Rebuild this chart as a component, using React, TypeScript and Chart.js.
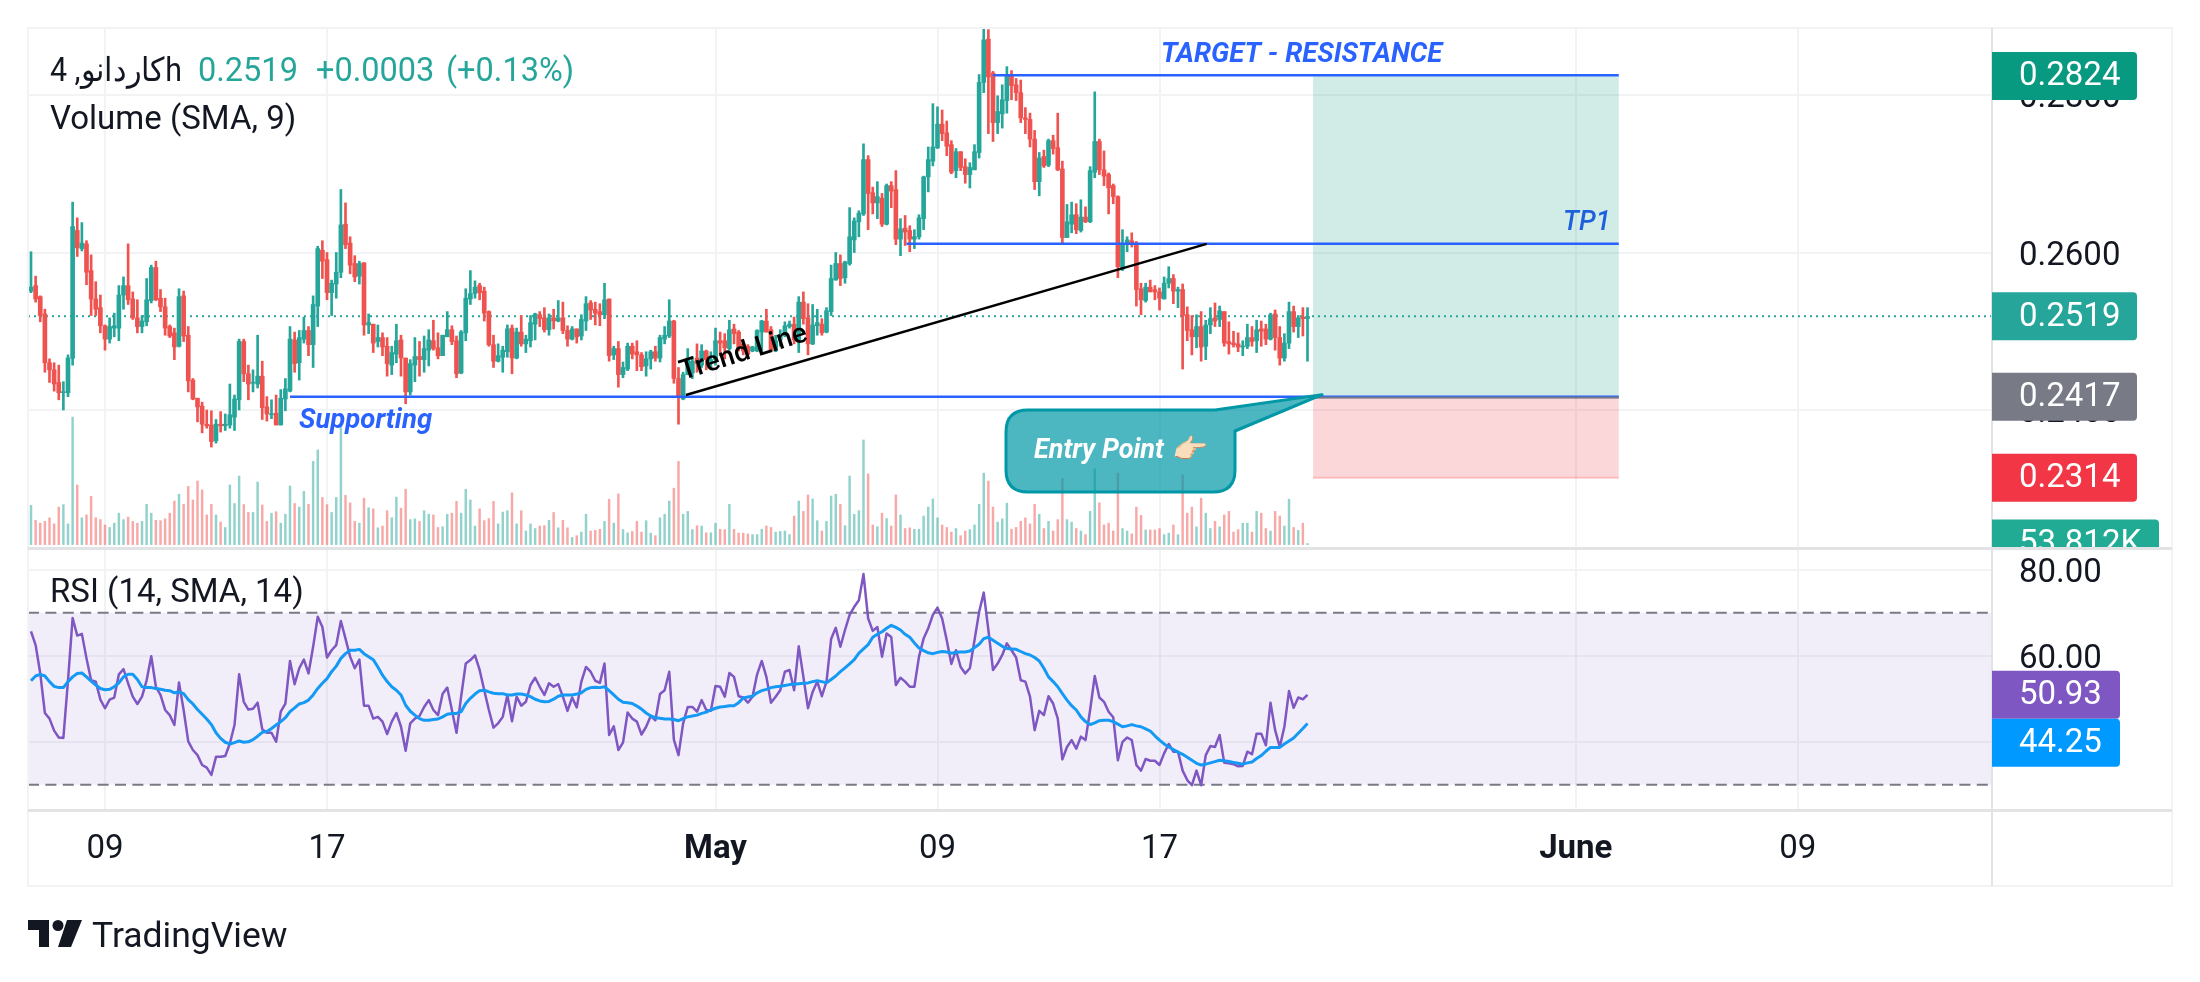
import React, { useEffect, useRef } from "react";
import { Chart, registerables } from "chart.js";

Chart.register(...registerables);

// Prices are in ten-thousandths (0.0001 ticks), 4h bars.
const opens = [2551,2558,2544,2522,2460,2451,2435,2422,2422,2466,2628,2605,2611,2577,2541,2530,2507,2490,2504,2504,2546,2558,2541,2517,2506,2512,2539,2581,2542,2531,2506,2498,2481,2545,2495,2438,2415,2405,2382,2381,2361,2382,2380,2381,2391,2413,2487,2446,2434,2433,2443,2404,2394,2396,2381,2414,2424,2489,2460,2490,2501,2483,2532,2603,2591,2549,2560,2575,2636,2612,2586,2570,2587,2508,2509,2487,2492,2481,2457,2471,2489,2466,2423,2457,2468,2464,2476,2488,2479,2469,2493,2502,2488,2447,2498,2541,2548,2558,2551,2525,2483,2462,2467,2474,2504,2466,2499,2484,2488,2509,2521,2517,2502,2517,2513,2517,2501,2490,2503,2494,2513,2536,2528,2525,2521,2541,2470,2478,2445,2452,2481,2474,2470,2456,2465,2474,2466,2490,2494,2513,2440,2414,2445,2447,2466,2457,2475,2462,2464,2488,2488,2478,2503,2499,2484,2481,2475,2475,2499,2513,2502,2475,2489,2495,2506,2509,2489,2537,2517,2484,2507,2509,2499,2525,2565,2586,2568,2586,2616,2639,2649,2718,2676,2663,2669,2636,2685,2680,2617,2631,2628,2617,2620,2643,2696,2716,2733,2763,2752,2737,2704,2728,2709,2699,2705,2727,2816,2871,2828,2765,2776,2793,2826,2813,2803,2771,2769,2744,2690,2722,2711,2742,2733,2706,2619,2636,2648,2628,2645,2639,2702,2741,2705,2699,2685,2671,2579,2611,2615,2612,2554,2539,2556,2553,2550,2541,2561,2567,2551,2553,2521,2502,2493,2506,2481,2508,2517,2515,2525,2487,2485,2484,2480,2481,2492,2488,2503,2503,2490,2522,2492,2466,2485,2525,2506,2518,2516];
const highs = [2601,2570,2545,2528,2465,2460,2457,2436,2470,2664,2644,2638,2615,2597,2563,2546,2508,2517,2523,2558,2569,2611,2550,2540,2520,2567,2584,2589,2553,2542,2508,2504,2554,2551,2506,2440,2415,2410,2400,2399,2388,2398,2395,2433,2419,2490,2490,2457,2451,2495,2462,2417,2413,2419,2426,2440,2506,2499,2501,2518,2506,2545,2608,2615,2600,2565,2600,2680,2663,2620,2596,2589,2587,2522,2509,2508,2498,2492,2481,2509,2495,2466,2464,2492,2487,2494,2502,2514,2498,2495,2525,2507,2494,2501,2554,2577,2564,2561,2556,2526,2495,2484,2481,2508,2508,2504,2520,2495,2520,2523,2525,2530,2522,2528,2539,2537,2507,2506,2503,2521,2544,2539,2537,2535,2561,2541,2481,2487,2461,2485,2485,2488,2473,2474,2476,2481,2495,2506,2540,2514,2454,2448,2478,2468,2484,2483,2476,2474,2504,2499,2497,2514,2509,2501,2488,2483,2481,2502,2514,2528,2506,2495,2502,2512,2513,2518,2544,2550,2535,2534,2528,2516,2530,2584,2600,2597,2589,2657,2644,2653,2738,2723,2683,2690,2675,2687,2690,2704,2643,2647,2634,2629,2648,2697,2734,2789,2785,2781,2767,2742,2732,2728,2719,2714,2737,2826,2885,2883,2830,2799,2813,2836,2831,2821,2819,2784,2777,2755,2727,2730,2744,2749,2777,2716,2661,2664,2662,2667,2658,2709,2804,2744,2729,2701,2687,2672,2629,2620,2625,2614,2561,2561,2565,2558,2555,2569,2582,2572,2556,2560,2531,2520,2521,2525,2514,2530,2536,2532,2525,2512,2500,2498,2488,2509,2506,2514,2513,2509,2523,2527,2506,2497,2537,2532,2520,2530,2530];
const lows = [2549,2537,2512,2448,2435,2424,2413,2400,2417,2457,2595,2602,2559,2520,2520,2498,2476,2485,2493,2488,2528,2534,2515,2498,2498,2507,2536,2539,2525,2495,2492,2464,2480,2487,2423,2413,2385,2371,2377,2353,2358,2372,2374,2377,2374,2400,2436,2413,2423,2428,2388,2386,2389,2381,2381,2399,2423,2448,2438,2485,2469,2454,2506,2567,2540,2520,2542,2568,2605,2573,2563,2560,2495,2497,2473,2480,2469,2443,2445,2460,2443,2408,2419,2436,2443,2448,2456,2476,2465,2469,2493,2483,2441,2446,2488,2534,2542,2540,2513,2481,2454,2461,2448,2467,2446,2465,2481,2473,2480,2489,2506,2499,2495,2503,2512,2497,2481,2489,2485,2489,2501,2515,2508,2507,2516,2462,2464,2429,2441,2450,2465,2450,2450,2443,2452,2462,2461,2484,2492,2434,2382,2413,2445,2440,2448,2454,2451,2451,2457,2469,2465,2476,2484,2475,2470,2470,2474,2474,2476,2499,2474,2474,2481,2493,2504,2484,2473,2509,2470,2483,2495,2495,2498,2520,2565,2558,2561,2584,2600,2620,2647,2629,2649,2643,2633,2635,2657,2610,2596,2609,2601,2605,2617,2629,2677,2710,2732,2742,2723,2700,2695,2704,2688,2682,2705,2720,2803,2751,2741,2751,2758,2777,2794,2793,2765,2751,2734,2680,2672,2708,2709,2725,2704,2612,2619,2625,2624,2626,2638,2638,2695,2699,2685,2649,2662,2568,2577,2601,2607,2532,2521,2537,2550,2540,2527,2541,2555,2535,2530,2452,2488,2470,2479,2462,2464,2497,2506,2506,2481,2471,2480,2474,2469,2478,2481,2473,2481,2483,2489,2476,2457,2462,2478,2499,2492,2494,2462];
const closes = [2556,2541,2520,2460,2451,2433,2422,2423,2466,2633,2606,2612,2575,2541,2528,2507,2490,2506,2507,2546,2558,2540,2517,2506,2513,2540,2581,2540,2531,2504,2494,2480,2544,2494,2437,2414,2404,2382,2380,2360,2382,2380,2382,2394,2414,2487,2446,2433,2435,2443,2403,2395,2395,2381,2415,2427,2490,2459,2492,2501,2483,2534,2605,2589,2549,2561,2575,2635,2610,2584,2569,2586,2508,2511,2485,2492,2480,2459,2473,2488,2466,2423,2459,2468,2464,2478,2489,2478,2469,2495,2502,2487,2446,2499,2542,2548,2556,2549,2523,2483,2462,2469,2476,2503,2466,2499,2484,2490,2511,2522,2516,2502,2517,2513,2517,2501,2490,2503,2493,2515,2535,2527,2523,2521,2540,2469,2478,2445,2454,2481,2471,2470,2455,2465,2474,2466,2492,2495,2513,2440,2416,2445,2466,2462,2459,2475,2464,2464,2488,2485,2479,2502,2497,2479,2475,2471,2480,2501,2513,2499,2475,2488,2495,2507,2509,2489,2537,2516,2484,2508,2511,2498,2526,2567,2586,2567,2588,2620,2640,2650,2718,2675,2663,2671,2636,2685,2678,2617,2630,2626,2617,2620,2644,2696,2718,2734,2763,2751,2735,2702,2728,2708,2699,2708,2728,2816,2870,2823,2765,2779,2794,2826,2812,2803,2771,2769,2744,2690,2720,2710,2742,2732,2705,2619,2639,2648,2629,2645,2639,2704,2741,2705,2697,2682,2671,2582,2611,2616,2611,2553,2540,2556,2550,2550,2542,2561,2567,2551,2553,2520,2501,2493,2506,2480,2508,2516,2513,2526,2485,2484,2483,2480,2481,2492,2487,2502,2500,2490,2521,2492,2466,2485,2525,2506,2517,2516,2519];
// Volume in thousands.
const volumes = [1980,1224,1080,1170,1350,1044,1890,2016,1044,6426,3006,1350,1494,2430,1350,1260,990,864,1080,1584,1260,1386,1170,1080,1170,2034,1584,1224,1206,1296,1584,2196,2538,2034,2934,2250,3204,2754,1494,2034,1494,1134,864,3006,2070,3456,2016,1620,1620,3150,1998,1170,1584,1656,1080,1530,2952,2070,1890,2682,2034,4194,4770,2376,2016,1620,2376,6030,2484,2106,1170,1080,2340,1854,1800,846,936,1710,1350,2394,1836,2790,1260,1296,1170,1710,1530,1494,864,900,1530,1584,2178,1584,2790,2250,936,1800,1206,1314,2178,1044,1638,1710,2610,1044,1710,684,1044,810,936,954,1224,1620,846,1224,846,360,450,630,1530,684,720,774,1170,2286,1080,2556,756,594,666,1170,630,1206,576,450,1350,1530,2196,2844,4194,1530,1674,756,954,936,594,594,1080,774,756,2034,774,576,576,540,504,504,774,936,864,630,666,684,504,1440,2196,1674,2502,2304,1206,684,1170,2448,2538,2034,954,3456,1530,1710,5274,3564,990,900,1584,1314,936,2502,1494,810,846,774,774,1440,1890,2304,1350,990,864,630,810,450,684,756,990,2034,3600,3204,1890,1134,1296,2088,774,864,1170,1350,1044,2034,1530,810,1170,684,1260,3330,1260,1134,810,684,504,1674,3816,2106,990,1080,684,3600,810,684,540,1890,1476,738,738,738,810,504,576,990,504,3510,1584,1890,900,2340,1584,810,1170,900,1494,1674,630,756,1080,1080,630,1674,1584,810,684,1674,1440,936,2286,864,720,1080,53.812];
const rsiValues = [65.7,62.5,55.9,46.7,45.4,42.6,41.0,40.9,54.3,68.8,64.7,65.1,59.4,54.3,54.0,49.8,47.8,49.8,50.3,55.7,56.9,53.6,50.5,48.8,50.5,54.3,59.9,52.8,50.9,47.4,46.2,43.9,53.8,47.4,40.1,38.1,36.9,34.6,34.0,32.3,36.5,36.5,36.7,39.6,43.9,55.7,49.3,47.5,47.7,49.1,42.9,42.1,42.1,40.0,47.0,48.9,58.8,53.4,57.1,59.1,55.9,62.1,69.1,66.7,59.6,61.3,62.5,68.1,64.0,59.8,57.1,59.1,48.4,48.4,45.4,45.8,44.7,41.8,44.7,46.7,43.5,37.9,44.3,45.4,46.0,48.1,49.7,47.4,46.2,51.2,52.6,47.4,42.1,50.5,58.2,59.0,60.1,56.7,52.0,47.4,43.3,44.3,45.8,50.9,44.8,50.5,48.4,49.3,53.2,54.9,52.8,50.9,53.6,52.8,53.4,50.5,47.2,50.3,48.0,54.0,57.4,56.3,54.2,53.7,58.2,41.6,43.6,38.1,39.8,46.8,45.4,44.7,41.7,43.5,46.0,45.0,51.1,52.0,56.3,40.5,36.9,44.3,48.1,48.1,47.0,49.7,47.4,47.2,53.0,52.8,50.5,56.0,55.1,50.6,50.3,49.1,50.5,55.7,58.8,55.1,49.1,50.5,52.0,56.3,56.7,52.0,62.2,55.1,47.8,51.6,54.0,50.6,54.0,63.9,66.5,62.1,66.0,69.5,71.4,72.9,79.0,68.7,65.8,66.7,59.8,65.2,64.4,53.2,54.9,54.0,52.8,52.8,59.8,64.0,66.4,69.5,71.2,68.7,63.6,58.1,61.3,57.4,55.9,57.1,63.6,70.2,74.7,66.0,56.7,58.2,60.2,62.9,61.3,59.6,54.3,54.0,50.5,42.7,47.2,46.2,50.6,48.9,45.4,35.9,38.8,40.4,38.4,41.2,40.4,47.4,55.3,50.3,49.3,47.0,45.7,35.7,40.0,41.0,40.4,34.6,33.3,36.0,35.6,35.6,34.6,37.3,39.5,37.7,37.7,33.3,31.1,29.9,33.3,29.9,36.9,39.0,38.8,41.6,35.1,35.0,34.8,34.3,34.4,37.7,37.1,41.9,41.9,39.2,49.1,42.7,38.8,43.5,51.8,47.9,50.3,49.9,50.93];
const rsiSmaValues = [54.2,55.3,55.7,55.3,54.0,52.9,52.6,52.6,54.0,55.1,55.9,56.0,55.1,54.1,53.2,52.4,52.1,52.2,52.8,53.7,55.1,55.7,55.7,54.5,52.8,52.6,52.6,52.4,52.2,52.0,51.9,51.4,51.6,51.2,49.8,48.8,47.5,46.4,45.3,44.0,42.1,40.8,39.9,39.5,39.8,40.2,39.9,40.0,40.5,41.3,42.2,42.4,43.1,43.9,44.7,45.6,47.0,47.9,48.8,49.1,49.7,50.9,52.4,53.6,54.7,56.3,57.6,59.4,60.5,61.3,61.3,61.5,60.5,59.8,59.1,57.4,55.5,54.0,52.8,52.0,50.9,48.5,47.1,46.2,45.4,45.0,45.0,45.2,45.3,45.8,46.4,46.6,46.6,47.0,48.9,50.1,51.1,51.9,52.0,51.6,51.3,51.2,51.2,50.9,50.9,51.1,51.1,50.9,50.5,49.9,49.5,49.3,49.4,49.9,50.6,50.9,50.9,50.9,51.1,51.4,52.2,52.6,52.7,52.6,52.8,51.9,50.9,49.9,49.2,49.1,48.9,48.3,47.6,46.7,46.0,45.6,45.5,45.3,45.3,45.2,44.9,45.4,45.8,46.0,46.2,46.6,46.9,47.4,47.8,48.1,48.2,48.4,48.4,49.1,50.2,50.4,50.6,51.4,51.9,52.2,52.6,52.8,52.9,53.1,53.3,53.4,53.5,53.6,53.7,54.0,54.2,54.0,53.7,54.5,55.3,56.3,57.2,58.1,59.1,60.6,61.6,62.6,64.3,65.0,65.6,66.4,67.1,66.6,66.0,65.0,64.3,63.0,61.8,61.2,60.7,60.5,60.8,61.0,60.9,60.6,60.8,60.9,60.9,61.1,61.9,62.7,64.0,64.3,63.6,62.9,62.2,61.7,61.6,61.5,61.0,60.5,60.2,59.6,58.8,57.1,55.1,54.0,52.8,51.2,49.7,48.4,47.4,45.8,44.7,44.0,44.4,44.9,45.0,45.0,44.7,44.1,43.5,43.7,44.0,43.7,43.5,43.0,42.5,41.4,40.4,39.5,38.8,38.2,37.6,37.1,36.4,35.7,35.0,34.6,34.8,35.1,35.4,35.7,35.6,35.4,35.2,35.0,34.8,35.1,35.3,36.1,36.8,37.8,38.7,38.7,38.7,39.5,40.2,40.9,42.0,43.1,44.25];

const timeTickBars = [16, 64, 148, 196, 244, 334, 382];
const timeTickLabels = ["09", "17", "May", "09", "17", "June", "09"];
const boldTimeLabels = ["May", "June"];
const priceTicks = [0.24, 0.26, 0.28];
const rsiTicks = [40, 60, 80];
const rsiBand = [70, 30];

const lastPrice = 0.2519;
const entryPrice = 0.2417;
const targetPrice = 0.2824;
const stopPrice = 0.2314;
const tp1Price = 0.2611;
const positionBars = [277.2, 343.3];
const supportLine = [{ x: 56, y: entryPrice }, { x: 343.3, y: entryPrice }];
const targetLine = [{ x: 208, y: 0.2825 }, { x: 343.3, y: 0.2825 }];
const tp1Line = [{ x: 189.3, y: tp1Price }, { x: 343.3, y: tp1Price }];
const trendLine = [{ x: 141.6, y: 0.2419 }, { x: 254.2, y: 0.2611 }];

const X_MIN = -0.649;
const X_MAX = 424;
const UP = "#26a69a";
const DOWN = "#ef5350";
const BLUE = "#2962ff";
const INK = "#131722";
const FONT = "Roboto";
const GRID = "#f2f3f5";
const DIVIDER = "#e2e3e5";

const bars = opens.map((_, i) => i);
const isUp = (i: number) => closes[i] >= opens[i];
const candleColors = bars.map((i) => (isUp(i) ? UP : DOWN));
const volumeColors = bars.map((i) => (isUp(i) ? "rgba(38,166,154,0.5)" : "rgba(239,83,80,0.5)"));

function tag(ctx: CanvasRenderingContext2D, y: number, right: number, color: string, label: string) {
  const left = 1992;
  const h = 48;
  ctx.fillStyle = color;
  ctx.beginPath();
  ctx.roundRect(left, y - h / 2, right - left, h, [0, 4, 4, 0]);
  ctx.fill();
  ctx.fillStyle = "#ffffff";
  ctx.font = `33px ${FONT}`;
  ctx.textAlign = "left";
  ctx.textBaseline = "middle";
  ctx.fillText(label, 2019, y + 1);
}

const zeroPad = (s: any) => { s.paddingTop = 0; s.paddingBottom = 0; s.paddingLeft = 0; s.paddingRight = 0; };

const overlayPlugin = {
  id: "overlay",
  beforeDatasetsDraw(chart: any) {
    const { ctx, scales } = chart;
    const x0 = scales.x.getPixelForValue(positionBars[0]);
    const x1 = scales.x.getPixelForValue(positionBars[1]);
    const yT = scales.y.getPixelForValue(targetPrice);
    const yE = scales.y.getPixelForValue(entryPrice);
    const yS = scales.y.getPixelForValue(stopPrice);
    ctx.save();
    ctx.fillStyle = "rgba(8,153,129,0.19)";
    ctx.fillRect(x0, yT, x1 - x0, yE - yT);
    ctx.fillStyle = "rgba(242,54,69,0.2)";
    ctx.fillRect(x0, yE, x1 - x0, yS - yE);
    ctx.fillStyle = "rgba(242,54,69,0.25)";
    ctx.fillRect(x0, yS - 1, x1 - x0, 2);
    ctx.restore();
  },
  afterDatasetsDraw(chart: any) {
    const { ctx, scales } = chart;
    const y = scales.y;
    const x = scales.x;
    const right = x.getPixelForValue(positionBars[1]);
    ctx.save();

    // Position tool entry line
    ctx.fillStyle = "#787b86";
    ctx.fillRect(x.getPixelForValue(positionBars[0]), y.getPixelForValue(entryPrice), right - x.getPixelForValue(positionBars[0]), 2);

    // Drawing labels
    ctx.textAlign = "left";
    ctx.textBaseline = "alphabetic";
    ctx.fillStyle = BLUE;
    ctx.font = `italic bold 27.5px ${FONT}`;
    ctx.fillText("TARGET - RESISTANCE", 1161, 62);
    ctx.fillText("Supporting", 299, 428);
    ctx.fillStyle = "#1e5fdc";
    ctx.font = `italic 500 27px ${FONT}`;
    ctx.fillText("TP1", 1563, 230);

    ctx.save();
    ctx.translate(683, 380);
    ctx.rotate((-17.5 * Math.PI) / 180);
    ctx.fillStyle = "#000000";
    ctx.font = `500 28px ${FONT}`;
    ctx.fillText("Trend Line", 0, 0);
    ctx.restore();

    // Callout
    const tipX = x.getPixelForValue(positionBars[0]) + 9;
    const tipY = y.getPixelForValue(entryPrice) - 2;
    const L = 1006, R = 1235, T = 410, B = 492, r = 22;
    ctx.beginPath();
    ctx.moveTo(L + r, T);
    ctx.lineTo(1215, T);
    ctx.lineTo(tipX, tipY);
    ctx.lineTo(R, 431);
    ctx.lineTo(R, B - r);
    ctx.quadraticCurveTo(R, B, R - r, B);
    ctx.lineTo(L + r, B);
    ctx.quadraticCurveTo(L, B, L, B - r);
    ctx.lineTo(L, T + r);
    ctx.quadraticCurveTo(L, T, L + r, T);
    ctx.closePath();
    ctx.fillStyle = "rgba(0,151,167,0.7)";
    ctx.fill();
    ctx.lineWidth = 3;
    ctx.lineJoin = "round";
    ctx.strokeStyle = "#0097a7";
    ctx.stroke();
    ctx.fillStyle = "#ffffff";
    ctx.font = `italic bold 27px ${FONT}`;
    ctx.textBaseline = "middle";
    ctx.fillText("Entry Point \uD83D\uDC49\uD83C\uDFFB", 1034, 451);
    ctx.textBaseline = "alphabetic";

    // Pane frame
    ctx.fillStyle = GRID;
    ctx.fillRect(27, 27, 2146, 2);
    ctx.fillRect(27, 885, 2146, 2);
    ctx.fillRect(27, 27, 2, 860);
    ctx.fillRect(2171, 27, 2, 860);
    ctx.fillStyle = DIVIDER;
    ctx.fillRect(1991, 28, 2, 858);

    // Price tags
    tag(ctx, y.getPixelForValue(targetPrice), 2137, "#089981", "0.2824");
    tag(ctx, y.getPixelForValue(lastPrice), 2137, UP, "0.2519");
    tag(ctx, y.getPixelForValue(entryPrice), 2137, "#787b86", "0.2417");
    tag(ctx, y.getPixelForValue(stopPrice), 2137, "#f23645", "0.2314");

    // Clipped volume tag
    ctx.save();
    ctx.beginPath();
    ctx.rect(1992, 500, 180, 47);
    ctx.clip();
    tag(ctx, scales.yVol.getPixelForValue(volumes[volumes.length - 1]), 2159, "#22ab94", "53.812K");
    ctx.restore();

    // RSI tags
    const rsiY = scales.yRsi.getPixelForValue(50.93);
    tag(ctx, rsiY, 2120, "#7e57c2", "50.93");
    tag(ctx, Math.max(scales.yRsi.getPixelForValue(44.25), rsiY + 48), 2120, "#0099ff", "44.25");

    // Pane dividers
    ctx.fillStyle = DIVIDER;
    ctx.fillRect(28, 547, 2144, 3);
    ctx.fillRect(28, 809, 2144, 3);

    // Legends
    ctx.textAlign = "left";
    ctx.textBaseline = "alphabetic";
    ctx.font = `33px ${FONT}`;
    ctx.fillStyle = INK;
    ctx.save();
    ctx.translate(50, 81);
    ctx.scale(0.92, 1);
    ctx.fillText("\u06A9\u0627\u0631\u062F\u0627\u0646\u0648, 4h", 0, 0);
    ctx.restore();
    ctx.fillText("Volume (SMA, 9)", 50, 129);
    ctx.fillText("RSI (14, SMA, 14)", 50, 602);
    ctx.fillStyle = UP;
    ctx.font = `32.5px ${FONT}`;
    ctx.fillText("0.2519", 198, 81);
    ctx.fillText("+0.0003", 316, 81);
    ctx.fillText("(+0.13%)", 446, 81);

    // Brand
    ctx.fillStyle = INK;
    ctx.fillRect(28, 920, 21, 10);
    ctx.fillRect(39, 930, 10, 17);
    ctx.beginPath();
    ctx.arc(58, 925.5, 5.5, 0, Math.PI * 2);
    ctx.fill();
    ctx.beginPath();
    ctx.moveTo(67, 920);
    ctx.lineTo(82, 920);
    ctx.lineTo(71, 947);
    ctx.lineTo(58, 947);
    ctx.closePath();
    ctx.fill();
    ctx.font = `35.5px ${FONT}`;
    ctx.fillText("TradingView", 92, 947);
    ctx.restore();
  },
};

const lineBase = { type: "line" as const, pointRadius: 0, borderJoinStyle: "round" as const, tension: 0, fill: false };

export default function App() {
  const ref = useRef<HTMLCanvasElement | null>(null);
  useEffect(() => {
    const chart = new Chart(ref.current as HTMLCanvasElement, {
      type: "bar",
      plugins: [overlayPlugin],
      data: {
        datasets: [
          {
            ...lineBase, order: 80, xAxisID: "x", yAxisID: "yRsi",
            data: [{ x: X_MIN, y: rsiBand[0] }, { x: X_MAX, y: rsiBand[0] }],
            borderColor: "#787b86", borderWidth: 2, borderDash: [11, 6.4],
            fill: "+1", backgroundColor: "rgba(126,87,194,0.1)",
          },
          {
            ...lineBase, order: 79, xAxisID: "x", yAxisID: "yRsi",
            data: [{ x: X_MIN, y: rsiBand[1] }, { x: X_MAX, y: rsiBand[1] }],
            borderColor: "#787b86", borderWidth: 2, borderDash: [11, 6.4],
          },
          {
            type: "bar", order: 70, xAxisID: "x", yAxisID: "yVol", grouped: false, barThickness: 1.8,
            data: bars.map((i) => ({ x: i, y: volumes[i] })),
            backgroundColor: volumeColors, borderWidth: 0,
          },
          {
            ...lineBase, order: 60, xAxisID: "x", yAxisID: "y",
            data: [{ x: X_MIN, y: lastPrice }, { x: X_MAX, y: lastPrice }],
            borderColor: UP, borderWidth: 2, borderDash: [2, 4],
          },
          {
            type: "bar", order: 50, xAxisID: "x", yAxisID: "y", grouped: false, barThickness: 2,
            data: bars.map((i) => ({ x: i, y: [lows[i] / 10000, highs[i] / 10000] })),
            backgroundColor: candleColors, borderWidth: 0,
          },
          {
            type: "bar", order: 49, xAxisID: "x", yAxisID: "y", grouped: false, barThickness: 4, minBarLength: 1,
            data: bars.map((i) => ({ x: i, y: [opens[i] / 10000, closes[i] / 10000] })),
            backgroundColor: candleColors, borderWidth: 0,
          },
          { ...lineBase, order: 30, xAxisID: "x", yAxisID: "y", data: supportLine, borderColor: BLUE, borderWidth: 2.5 },
          { ...lineBase, order: 29, xAxisID: "x", yAxisID: "y", data: targetLine, borderColor: BLUE, borderWidth: 2.5 },
          { ...lineBase, order: 28, xAxisID: "x", yAxisID: "y", data: tp1Line, borderColor: BLUE, borderWidth: 2.5 },
          { ...lineBase, order: 27, xAxisID: "x", yAxisID: "y", data: trendLine, borderColor: "#000000", borderWidth: 2.5 },
          {
            ...lineBase, order: 11, xAxisID: "x", yAxisID: "yRsi",
            data: bars.map((i) => ({ x: i, y: rsiValues[i] })), borderColor: "#7e57c2", borderWidth: 2.5,
          },
          {
            ...lineBase, order: 10, xAxisID: "x", yAxisID: "yRsi",
            data: bars.map((i) => ({ x: i, y: rsiSmaValues[i] })), borderColor: "#1499f5", borderWidth: 3,
          },
        ] as any,
      },
      options: {
        responsive: false,
        animation: false,
        devicePixelRatio: 1,
        events: [],
        layout: { padding: { left: 28, top: 28, right: 28, bottom: 96 } },
        plugins: { legend: { display: false }, tooltip: { enabled: false } },
        scales: {
          x: {
            type: "linear",
            offset: false,
            min: X_MIN,
            max: X_MAX,
            grid: { color: GRID, lineWidth: 2, drawTicks: false, offset: false },
            border: { display: false },
            afterBuildTicks: (s: any) => { s.ticks = timeTickBars.map((value) => ({ value })); },
            afterFit: (s: any) => { s.height = 76; zeroPad(s); },
            ticks: {
              autoSkip: false,
              maxRotation: 0,
              padding: 20,
              color: INK,
              font: (c: any) => {
                const lab = timeTickLabels[timeTickBars.indexOf(c.tick?.value)];
                return { family: FONT, size: 33, weight: boldTimeLabels.includes(lab) ? "bold" : "normal" };
              },
              callback: (v: any) => timeTickLabels[timeTickBars.indexOf(v)],
            },
          },
          y: {
            type: "linear",
            position: "right",
            stack: "panes",
            stackWeight: 520,
            weight: 1,
            min: 0.22248,
            max: 0.28851,
            grid: { color: GRID, lineWidth: 2, drawTicks: false },
            border: { display: false },
            afterBuildTicks: (s: any) => { s.ticks = priceTicks.map((value) => ({ value })); },
            afterFit: (s: any) => { s.width = 180; zeroPad(s); },
            ticks: {
              autoSkip: false, padding: 27, color: INK,
              font: { family: FONT, size: 33, lineHeight: 0.24 },
              callback: (v: any) => ["", Number(v).toFixed(4)],
            },
          },
          yRsi: {
            type: "linear",
            position: "right",
            stack: "panes",
            stackWeight: 262,
            weight: 2,
            min: 24.14,
            max: 85.07,
            grid: { color: GRID, lineWidth: 2, drawTicks: false },
            border: { display: false },
            afterBuildTicks: (s: any) => { s.ticks = rsiTicks.map((value) => ({ value })); },
            afterFit: (s: any) => { s.width = 180; zeroPad(s); },
            ticks: {
              autoSkip: false, padding: 27, color: INK,
              font: { family: FONT, size: 33, lineHeight: 0.24 },
              callback: (v: any) => ["", Number(v).toFixed(2)],
            },
          },
          yVol: {
            type: "linear",
            position: "left",
            display: false,
            min: -13376,
            max: 26037,
          },
        },
      } as any,
    });
    return () => chart.destroy();
  }, []);
  return (
    <div style={{ position: "absolute", left: 0, top: 0, width: 2200, height: 982, background: "#ffffff" }}>
      <canvas ref={ref} width={2200} height={982} style={{ display: "block", width: 2200, height: 982 }} />
    </div>
  );
}
